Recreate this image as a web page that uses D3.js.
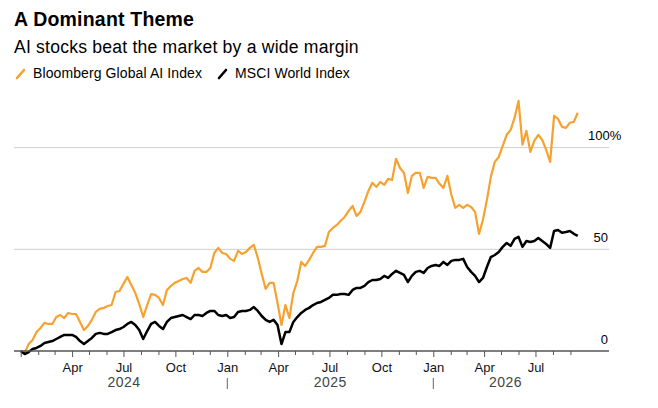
<!DOCTYPE html>
<meta charset="utf-8">
<head>
<script src="https://d3js.org/d3.v7.min.js"></script>
<style>
body { margin: 0; background: #fff; }
svg { font-family: "Liberation Sans", Arial, sans-serif; display: block; }
.grid line { stroke: #cfcfcf; stroke-width: 1; }
.axis path, .axis line { stroke: #555; }
.axis text { font-size: 13px; fill: #111; }
</style>
</head>
<body>
<script>

// Weekly closes, % change since start
var weeks = [
  "2024-01-01","2024-01-08","2024-01-15","2024-01-22","2024-01-29","2024-02-05","2024-02-12","2024-02-19","2024-02-26",
  "2024-03-04","2024-03-11","2024-03-18","2024-03-25","2024-04-01","2024-04-08","2024-04-15","2024-04-22","2024-04-29",
  "2024-05-06","2024-05-13","2024-05-20","2024-05-27","2024-06-03","2024-06-10","2024-06-17","2024-06-24","2024-07-01",
  "2024-07-08","2024-07-15","2024-07-22","2024-07-29","2024-08-05","2024-08-12","2024-08-19","2024-08-26","2024-09-02",
  "2024-09-09","2024-09-16","2024-09-23","2024-09-30","2024-10-07","2024-10-14","2024-10-21","2024-10-28","2024-11-04",
  "2024-11-11","2024-11-18","2024-11-25","2024-12-02","2024-12-09","2024-12-16","2024-12-23","2024-12-30",
  "2025-01-06","2025-01-13","2025-01-20","2025-01-27","2025-02-03","2025-02-10","2025-02-17","2025-02-24","2025-03-03",
  "2025-03-10","2025-03-17","2025-03-24","2025-03-31","2025-04-07","2025-04-14","2025-04-21","2025-04-28","2025-05-05",
  "2025-05-12","2025-05-19","2025-05-26","2025-06-02","2025-06-09","2025-06-16","2025-06-23","2025-06-30","2025-07-07",
  "2025-07-14","2025-07-21","2025-07-28","2025-08-04","2025-08-11","2025-08-18","2025-08-25","2025-09-01","2025-09-08",
  "2025-09-15","2025-09-22","2025-09-29","2025-10-06","2025-10-13","2025-10-20","2025-10-27","2025-11-03","2025-11-10",
  "2025-11-17","2025-11-24","2025-12-01","2025-12-08","2025-12-15","2025-12-22","2025-12-29",
  "2026-01-05","2026-01-12","2026-01-19","2026-01-26","2026-02-02","2026-02-09","2026-02-16","2026-02-23","2026-03-02",
  "2026-03-09","2026-03-16","2026-03-23","2026-03-30","2026-04-06","2026-04-13","2026-04-20","2026-04-27","2026-05-04",
  "2026-05-11","2026-05-18","2026-05-25","2026-06-01","2026-06-08","2026-06-15","2026-06-22","2026-06-29","2026-07-06",
  "2026-07-13","2026-07-20","2026-07-27","2026-08-03","2026-08-10","2026-08-17","2026-08-24","2026-08-31","2026-09-07",
  "2026-09-14"
];

var aiIndex = [
  0, -1.0, 3.4, 5.4, 9.3, 11.3, 13.8, 13.3, 13.3, 16.7, 17.7, 16.2, 18.7, 18.2, 18.2, 14.3, 10.3, 12.3, 15.3, 19.2,
  20.7, 21.2, 22.1, 22.6, 29.0, 29.5, 33.0, 36.4, 32.5, 28.5, 23.1, 16.7, 22.6, 28.0, 27.6, 26.1, 22.6, 30.0, 32.0, 33.5,
  34.4, 35.4, 35.9, 33.5, 39.4, 40.8, 38.9, 38.9, 40.8, 48.2, 50.7, 48.2, 47.7, 45.3, 44.3, 49.2, 47.7, 48.7, 50.7, 52.2,
  45.8, 37.9, 30.5, 33.5, 33.5, 23.6, 12.8, 22.6, 16.2, 28.5, 34.4, 43.8, 41.8, 44.8, 48.2, 51.2, 51.2, 51.7, 58.5, 60.5,
  62.0, 64.0, 65.9, 68.9, 71.3, 66.4, 68.4, 73.3, 78.7, 82.7, 80.7, 83.1, 81.7, 84.6, 84.1, 94.5, 90.0, 87.6, 77.7, 86.1,
  87.6, 87.6, 80.2, 85.6, 85.1, 85.1, 82.2, 80.2, 86.1, 76.8, 70.4, 71.8, 70.4, 71.8, 70.8, 68.4, 57.6, 64.5, 74.3, 85.6,
  93.0, 95.4, 100.9, 106.3, 108.7, 114.6, 123.0, 101.4, 108.2, 97.9, 103.3, 106.3, 103.8, 98.9, 93.0, 115.6, 114.1, 110.2, 109.7, 112.2,
  112.7, 117.1
];

var msciWorld = [
  0, -1.5, -0.5, 1.0, 1.5, 2.5, 3.9, 4.4, 4.9, 5.9, 6.9, 7.9, 7.9, 7.9, 6.9, 4.9, 3.4, 4.9, 6.4, 8.4,
  8.9, 8.4, 8.4, 9.3, 10.3, 10.8, 11.8, 13.3, 14.3, 12.8, 10.3, 5.9, 9.8, 13.3, 14.3, 12.3, 10.8, 14.3, 16.2, 16.7,
  17.2, 17.7, 16.7, 15.7, 17.7, 17.7, 17.2, 18.7, 19.7, 19.7, 17.7, 17.2, 17.7, 16.2, 16.7, 19.2, 19.7, 19.7, 20.2, 21.6,
  19.7, 17.2, 15.3, 14.3, 15.3, 12.8, 3.4, 9.3, 9.3, 14.3, 16.7, 18.7, 20.2, 21.2, 22.6, 23.6, 24.1, 25.1, 26.1, 27.6,
  27.6, 28.0, 28.0, 27.6, 30.0, 31.0, 31.0, 32.0, 33.9, 34.9, 34.9, 35.4, 36.9, 35.9, 37.9, 39.4, 38.4, 37.4, 33.9, 36.9,
  38.9, 39.4, 38.4, 40.8, 41.8, 42.3, 41.8, 43.8, 42.3, 44.3, 44.8, 44.8, 45.3, 41.3, 38.9, 36.9, 33.9, 35.9, 41.3, 46.2,
  47.2, 48.7, 51.2, 53.1, 51.7, 55.1, 56.1, 51.2, 54.1, 53.6, 54.1, 55.6, 54.1, 52.6, 50.7, 59.0, 59.5, 58.1, 58.5, 59.0,
  57.6, 56.6
];

var seriesNames = ["Bloomberg Global AI Index", "MSCI World Index"];
var seriesColors = ["#f7a12f", "#000000"];
var yTicks = [0, 50, 100];
var yTickLabels = ["0", "50", "100%"];
var years = ["2024", "2025", "2026"];

var W = 658, H = 408;
var parse = d3.timeParse("%Y-%m-%d");
var dates = weeks.map(parse);

var svg = d3.select("body").append("svg")
    .attr("width", W)
    .attr("height", H);

// Title block
svg.append("text")
    .attr("x", 14).attr("y", 26)
    .style("font-size", "19.5px").style("font-weight", "bold")
    .style("letter-spacing", "0.2px")
    .text("A Dominant Theme");
svg.append("text")
    .attr("x", 14).attr("y", 53)
    .style("font-size", "17.6px")
    .style("letter-spacing", "0.2px")
    .text("AI stocks beat the market by a wide margin");

// Legend
var legendX = [15, 217];
seriesNames.forEach(function(name, i) {
  var g = svg.append("g").attr("transform", "translate(" + legendX[i] + ",68)");
  g.append("line")
      .attr("x1", 2).attr("y1", 10).attr("x2", 9).attr("y2", 2)
      .attr("stroke", seriesColors[i]).attr("stroke-width", 2.6)
      .attr("stroke-linecap", "round");
  g.append("text")
      .attr("x", 18).attr("y", 10)
      .style("font-size", "14px")
      .style("letter-spacing", "0.1px")
      .text(name);
});

// Scales
var x = d3.scaleTime()
    .domain([new Date(2025, 0, 1), new Date(2026, 0, 1)])
    .range([227.3, 433.3]);
var y = d3.scaleLinear()
    .domain([0, 50])
    .range([351, 249.3]);

var plotLeft = 14, plotRight = 609;

// Gridlines
svg.append("g").attr("class", "grid")
  .selectAll("line")
  .data(yTicks.filter(function(d) { return d > 0; }))
  .enter().append("line")
    .attr("x1", plotLeft).attr("x2", plotRight)
    .attr("y1", function(d) { return y(d); })
    .attr("y2", function(d) { return y(d); });

// y labels on the right
svg.append("g").selectAll("text")
  .data(yTicks)
  .enter().append("text")
    .attr("x", function(d, i) { return i == 2 ? 588 : 608; })
    .attr("y", function(d) { return y(d) - 7.5; })
    .attr("text-anchor", function(d, i) { return i == 2 ? "start" : "end"; })
    .style("font-size", "13px")
    .text(function(d, i) { return yTickLabels[i]; });

// Lines
var line = d3.line()
    .x(function(d, i) { return x(dates[i]); })
    .y(function(d) { return y(d); });

[aiIndex, msciWorld].forEach(function(vals, i) {
  svg.append("path")
      .datum(vals)
      .attr("fill", "none")
      .attr("stroke", seriesColors[i])
      .attr("stroke-width", i == 0 ? 2.2 : 2.5)
      .attr("stroke-linejoin", "round")
      .attr("d", line);
});

// x axis
var months = d3.timeMonth.range(new Date(2024, 0, 1), new Date(2026, 9, 1));
var fmt = d3.timeFormat("%b");
var xAxis = d3.axisBottom(x)
    .tickValues(months)
    .tickSizeOuter(0)
    .tickSize(6)
    .tickPadding(6)
    .tickFormat(function(d, i) {
      if (i == 0) return "";
      return d.getMonth() % 3 == 0 ? fmt(d) : "";
    });

var gx = svg.append("g").attr("class", "axis")
    .attr("transform", "translate(0,351)")
    .call(xAxis);
gx.select(".domain").remove();
gx.insert("line", ":first-child")
    .attr("x1", plotLeft).attr("x2", plotRight)
    .attr("stroke", "#555").attr("stroke-width", 1.5);
gx.selectAll(".tick line")
    .attr("y2", function(d) { return d.getMonth() % 3 == 0 ? 6 : 4; });

// year labels and separators
var lastDate = dates[dates.length - 1];
years.forEach(function(yr) {
  var a = new Date(+yr, 0, 1), b = new Date(+yr + 1, 0, 1);
  if (b > lastDate) b = lastDate;
  var mid = new Date((a.getTime() + b.getTime()) / 2);
  svg.append("text")
      .attr("x", x(mid)).attr("y", 387)
      .attr("text-anchor", "middle")
      .style("font-size", "14px").style("fill", "#444")
      .style("letter-spacing", "0.5px")
      .text(yr);
  if (yr != years[0]) {
    svg.append("line")
        .attr("x1", x(a)).attr("x2", x(a))
        .attr("y1", 378).attr("y2", 389)
        .attr("stroke", "#666").attr("stroke-width", 1);
  }
});

</script>
</body>
